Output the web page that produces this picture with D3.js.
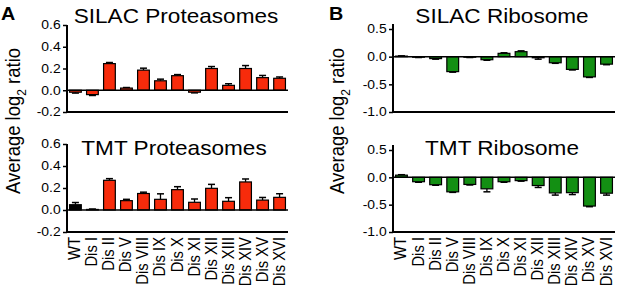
<!DOCTYPE html>
<html><head><meta charset="utf-8">
<script src="https://cdnjs.cloudflare.com/ajax/libs/d3/7.8.5/d3.min.js"></script>
<style>body{margin:0;background:#fff}svg{display:block;font-family:Arial,"Liberation Sans",sans-serif}</style>
</head><body><svg id="c" width="617" height="288"></svg>
<script>
const categories = ["WT","Dis I","Dis II","Dis V","Dis VIII","Dis IX","Dis X","Dis XI","Dis XII","Dis XIII","Dis XIV","Dis XV","Dis XVI"];
const silacProtValues = [-0.018,-0.04,0.245,0.02,0.185,0.087,0.134,-0.018,0.2,0.045,0.2,0.116,0.11];
const silacProtErrors = [0.008,0.008,0.01,0.005,0.018,0.015,0.01,0.006,0.018,0.015,0.027,0.02,0.012];
const tmtProtValues = [0.048,0.005,0.27,0.085,0.15,0.097,0.185,0.07,0.197,0.079,0.255,0.09,0.115];
const tmtProtErrors = [0.02,0.004,0.015,0.012,0.012,0.05,0.027,0.03,0.036,0.033,0.027,0.024,0.033];
const silacRiboValues = [0.01,-0.01,-0.035,-0.27,-0.01,-0.055,0.06,0.09,-0.02,-0.11,-0.23,-0.365,-0.135];
const silacRiboErrors = [0.005,0.005,0.01,0.01,0.005,0.01,0.01,0.015,0.025,0.01,0.01,0.01,0.01];
const tmtRiboValues = [0.04,-0.08,-0.135,-0.265,-0.13,-0.21,-0.08,-0.06,-0.15,-0.285,-0.28,-0.525,-0.29];
const tmtRiboErrors = [0.008,0.01,0.01,0.01,0.01,0.055,0.01,0.01,0.035,0.04,0.035,0.012,0.035];
const protTicks = [-0.2,0.0,0.2,0.4,0.6];
const riboTicks = [-1.0,-0.5,0.0,0.5];
const titles = ["SILAC Proteasomes","TMT Proteasomes","SILAC Ribosome","TMT Ribosome"];

const RED = "#f72b0b", GREEN = "#138f13", BLACK = "#000";
const SX = 1.13;
const svg = d3.select("#c");

function htext(parent, x, y, str, size, anchor, weight){
  return parent.append("text").attr("transform",`translate(${x},${y}) scale(${SX},1)`)
    .attr("text-anchor",anchor||"start").attr("font-size",size).attr("font-weight",weight||"normal").text(str);
}

function panel(o){
  const g = svg.append("g");
  const x = d3.scaleBand().domain(categories).range([o.x0, o.x1]).paddingInner(0.31).paddingOuter(0.15);
  const y = d3.scaleLinear().domain(o.domain).range([o.yb, o.yt]);
  const data = categories.map((c,i)=>({c, v:o.values[i], e:o.errors[i], i}));
  data.forEach(d=>{
    const cx = x(d.c) + x.bandwidth()/2;
    const end = d.v >= 0 ? d.v + d.e : d.v - d.e;
    g.append("line").attr("x1",cx).attr("x2",cx).attr("y1",y(d.v)).attr("y2",y(end)).attr("stroke","#000").attr("stroke-width",1.3);
    g.append("line").attr("x1",cx-3.5).attr("x2",cx+3.5).attr("y1",y(end)).attr("y2",y(end)).attr("stroke","#000").attr("stroke-width",1.5);
  });
  g.selectAll("rect.bar").data(data).enter().append("rect")
    .attr("x",d=>x(d.c)).attr("width",x.bandwidth())
    .attr("y",d=>y(Math.max(0,d.v))).attr("height",d=>Math.abs(y(d.v)-y(0)))
    .attr("fill",d=> (o.blackWT && d.i===0) ? BLACK : o.color)
    .attr("stroke","#000").attr("stroke-width",1.2);
  g.append("line").attr("x1",o.x0).attr("x2",o.x1).attr("y1",y(0)).attr("y2",y(0)).attr("stroke","#000").attr("stroke-width",1.5);
  const ya = d3.axisLeft(y).tickValues(o.ticks).tickSize(4).tickPadding(1.5);
  const yg = g.append("g").attr("transform",`translate(${o.x0},0)`).call(ya);
  yg.select(".domain").remove();
  yg.append("line").attr("x1",0).attr("x2",0).attr("y1",o.ytop).attr("y2",o.yb+1).attr("stroke","#000").attr("stroke-width",2);
  yg.selectAll(".tick line").attr("stroke-width",1.5);
  yg.selectAll("text").attr("font-size",12).attr("fill","#000")
    .attr("transform",`scale(1.16,1)`)
    .style("font-family","Arial, 'Liberation Sans', sans-serif")
    .text(d=> d<0 ? "-"+Math.abs(d).toFixed(1) : d.toFixed(1));
  g.append("line").attr("x1",o.x0-1).attr("x2",o.x1).attr("y1",o.yb).attr("y2",o.yb).attr("stroke","#000").attr("stroke-width",2);
  htext(g, o.tx, o.ty, o.title, 20, "middle");
  if(o.xlabels){
    g.selectAll("text.xl").data(categories).enter().append("text")
      .attr("transform",d=>`translate(${x(d)+x.bandwidth()/2+5},${o.yb+5}) rotate(-90) scale(1,${SX})`)
      .attr("text-anchor","end").attr("font-size",14.8).text(d=>d);
  }
  return g;
}

panel({x0:67,x1:288,yb:112,yt:25,ytop:25,domain:[-0.2,0.6],ticks:protTicks,values:silacProtValues,errors:silacProtErrors,color:RED,blackWT:false,title:titles[0],tx:176,ty:23});
panel({x0:67,x1:288,yb:232,yt:144,ytop:144,domain:[-0.2,0.6],ticks:protTicks,values:tmtProtValues,errors:tmtProtErrors,color:RED,blackWT:true,title:titles[1],tx:174,ty:155,xlabels:true});
panel({x0:393,x1:615,yb:112,yt:29,ytop:24,domain:[-1.0,0.5],ticks:riboTicks,values:silacRiboValues,errors:silacRiboErrors,color:GREEN,blackWT:false,title:titles[2],tx:502,ty:23});
panel({x0:393,x1:615,yb:232,yt:150,ytop:145,domain:[-1.0,0.5],ticks:riboTicks,values:tmtRiboValues,errors:tmtRiboErrors,color:GREEN,blackWT:false,title:titles[3],tx:502,ty:155,xlabels:true});

function ylabel(cx,cy){
  const t = svg.append("text").attr("transform",`translate(${cx},${cy}) rotate(-90) scale(1,${SX})`).attr("text-anchor","middle").attr("font-size",18.5);
  t.append("tspan").text("Average log");
  t.append("tspan").attr("font-size",12).attr("dy",5).text("2");
  t.append("tspan").attr("dy",-5).text(" ratio");
}
ylabel(20,121);
ylabel(344,121);

htext(svg, 1, 20, "A", 17.5, "start", "bold");
htext(svg, 329, 20, "B", 17.5, "start", "bold");
</script></body></html>
